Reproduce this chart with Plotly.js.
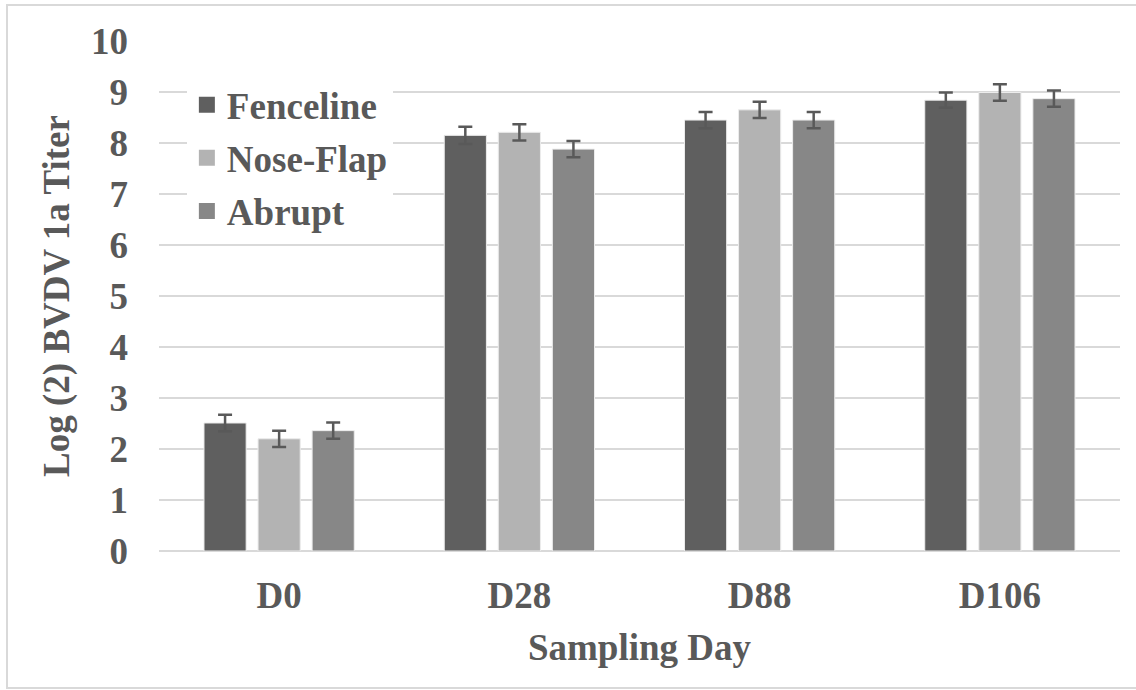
<!DOCTYPE html>
<html>
<head>
<meta charset="utf-8">
<script src="https://cdn.plot.ly/plotly-3.0.1.min.js"></script>
<style>
  html, body { margin: 0; padding: 0; background: #ffffff; }
  #chart { width: 1136px; height: 690px; }
</style>
</head>
<body>
<div id="chart"></div>
<script>
// ---- Data ----
const categories = ["D0", "D28", "D88", "D106"];
const seriesNames = ["Fenceline", "Nose-Flap", "Abrupt"];
const fenceline = [2.51, 8.15, 8.45, 8.84];
const noseFlap  = [2.20, 8.21, 8.65, 8.99];
const abrupt    = [2.36, 7.88, 8.45, 8.87];
const fencelineErr = [0.16, 0.17, 0.16, 0.15];
const noseFlapErr  = [0.16, 0.16, 0.16, 0.16];
const abruptErr    = [0.16, 0.16, 0.16, 0.16];
const yTickValues = [0, 1, 2, 3, 4, 5, 6, 7, 8, 9, 10];

// ---- Styles ----
const colors = ["#5f5f5f", "#b3b3b3", "#878787"];
const textColor = "#595959";
const fontFamily = "Liberation Serif";
const W = 1136, H = 690;
const margin = { l: 159, r: 16, t: 41, b: 139 };

const values = [fenceline, noseFlap, abrupt];
const errs = [fencelineErr, noseFlapErr, abruptErr];

const barTraces = seriesNames.map((name, i) => ({
  type: "bar",
  name: name,
  x: categories,
  y: values[i],
  marker: { color: colors[i], line: { color: "#ececec", width: 1 } },
  error_y: {
    type: "data",
    array: errs[i],
    visible: true,
    color: "#595959",
    thickness: 2.5,
    width: 7
  },
  legendgroup: "g" + i,
  showlegend: false,
  hoverinfo: "x+y+name"
}));

// legend entries (larger square keys), linked to the bar series by legendgroup
const legendTraces = seriesNames.map((name, i) => ({
  type: "scatter",
  mode: "markers",
  name: name,
  x: [null],
  y: [null],
  marker: { symbol: "square", size: 18, color: colors[i] },
  legendgroup: "g" + i,
  showlegend: true,
  hoverinfo: "skip"
}));

// page border in paper coordinates
const pw = W - margin.l - margin.r;
const ph = H - margin.t - margin.b;
const px2x = p => (p - margin.l) / pw;
const py2y = p => (H - margin.b - p) / ph;

const layout = {
  width: W,
  height: H,
  margin: margin,
  paper_bgcolor: "#ffffff",
  plot_bgcolor: "#ffffff",
  barmode: "group",
  bargap: 0.325,
  bargroupgap: 0.22,
  font: { family: fontFamily, color: textColor, size: 36, weight: "bold" },
  showlegend: true,
  legend: {
    x: 0.029,
    y: 0.935,
    xanchor: "left",
    yanchor: "top",
    bgcolor: "#ffffff",
    borderwidth: 0,
    traceorder: "grouped",
    tracegroupgap: 2,
    itemsizing: "trace",
    font: { family: fontFamily, color: textColor, size: 37, weight: "bold" }
  },
  xaxis: {
    type: "category",
    tickfont: { family: fontFamily, color: textColor, size: 37, weight: "bold" },
    ticks: "",
    ticklabelstandoff: 19,
    showgrid: false,
    showline: false,
    zeroline: false,
    title: {
      text: "Sampling Day",
      font: { family: fontFamily, color: textColor, size: 37, weight: "bold" },
      standoff: 19
    }
  },
  yaxis: {
    range: [0, 10],
    tickvals: yTickValues,
    tickfont: { family: fontFamily, color: textColor, size: 37, weight: "bold" },
    ticks: "",
    ticklabelstandoff: 30,
    showgrid: true,
    gridcolor: "#d9d9d9",
    gridwidth: 2,
    zeroline: true,
    zerolinecolor: "#d9d9d9",
    zerolinewidth: 2,
    showline: false,
    title: {
      text: "Log (2) BVDV 1a Titer",
      font: { family: fontFamily, color: textColor, size: 37, weight: "bold" },
      standoff: 10
    }
  },
  shapes: [{
    type: "rect",
    xref: "paper", yref: "paper",
    x0: px2x(7), x1: px2x(W + 10),
    y0: py2y(688), y1: py2y(5),
    line: { color: "#d9d9d9", width: 2 },
    fillcolor: "rgba(0,0,0,0)",
    layer: "below"
  }]
};

Plotly.newPlot("chart", barTraces.concat(legendTraces), layout, { displayModeBar: false });
</script>
</body>
</html>
